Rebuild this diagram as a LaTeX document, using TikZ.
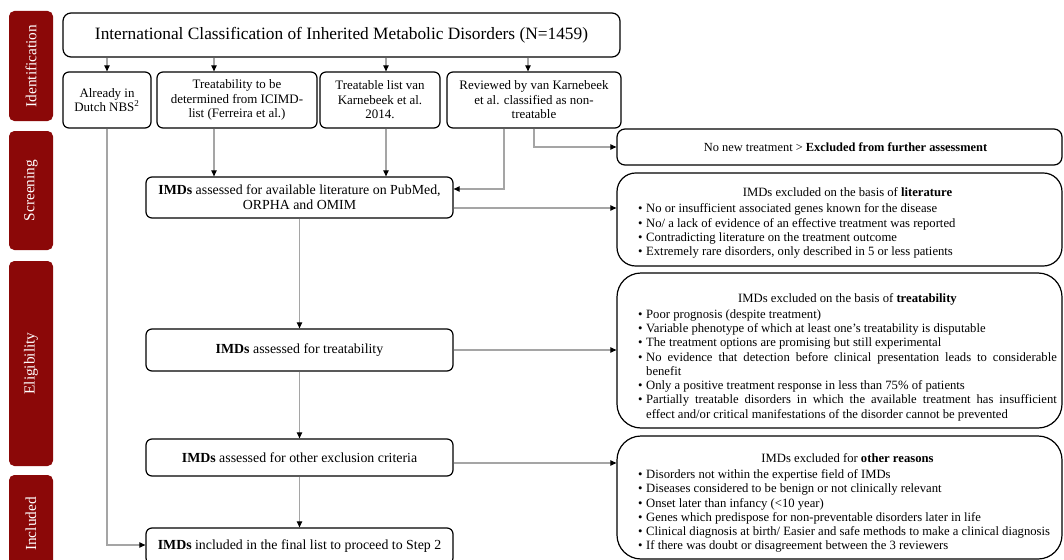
\documentclass[tikz,border=0pt]{standalone}
\usepackage{fontspec}
\setmainfont{Liberation Serif}
\usetikzlibrary{arrows.meta,fit}
\definecolor{sidered}{RGB}{139,8,8}
\definecolor{conngray}{RGB}{165,165,165}
\newcommand\blt[1]{\par\noindent\hangindent=6pt\hangafter=1\makebox[6pt][l]{\textbullet}#1\par}
\newcommand\ttl[1]{{\centering #1\par}\vspace{1.5pt}}
\begin{document}
\begin{tikzpicture}[x=0.75pt,y=-0.75pt,
  side/.style={fill=sidered, draw=none, rounded corners=4pt, inner sep=0pt},
  sidetxt/.style={text=white, rotate=90, font=\fontsize{11.5}{13}\selectfont},
  box/.style={draw=black, line width=0.9pt, rounded corners=4.5pt, inner sep=0pt},
  rbox/.style={draw=black, line width=0.9pt, rounded corners=12pt, inner sep=0pt},
  rowtxt/.style={align=center, inner sep=0pt, font=\fontsize{9.7}{10.9}\selectfont},
  midtxt/.style={align=center, inner sep=0pt, font=\fontsize{10.4}{11.4}\selectfont},
  listtxt/.style={text width=314pt, align=justify, inner sep=0pt, font=\fontsize{9.5}{10.7}\selectfont},
  conn/.style={draw=conngray, line width=0.8pt, -{Triangle[color=black,length=4.5pt,width=4pt]}}]
\useasboundingbox (0,0) rectangle (1064,560);
% sidebar
\node[side, fit={(9,11)(53,121)}] (s1) {};
\node[sidetxt] (s1t) at (s1.center) {Identification};
\node[side, fit={(9,131)(53,250)}] (s2) {};
\node[sidetxt] (s2t) at (s2.center) {Screening};
\node[side, fit={(9,261)(53,466)}] (s3) {};
\node[sidetxt] (s3t) at (s3.center) {Eligibility};
\node[side, fit={(9,475)(53,575)}] (s4) {};
\node[sidetxt] (s4t) at (31,524) {Included};
% top
\node[box, rounded corners=6pt, fit={(63,13)(620,57)}] (top) {};
\node[inner sep=0pt, font=\fontsize{13}{14}\selectfont] (topt) at (top.center) {International Classification of Inherited Metabolic Disorders (N=1459)};
% row 2
\node[box, fit={(63,72)(151,128)}] (A) {};
\node[rowtxt] (At) at (A.center) {Already in\\Dutch NBS\textsuperscript{2}};
\node[box, fit={(157,72)(317,128)}] (B) {};
\node[rowtxt] (Bt) at (B.center) {Treatability to be\\determined from ICIMD-\\list (Ferreira et al.)};
\node[box, fit={(320,72)(440,128)}] (C) {};
\node[rowtxt] (Ct) at (C.center) {Treatable list van\\Karnebeek et al.\\2014.};
\node[box, fit={(447,72)(621,128)}] (D) {};
\node[rowtxt] (Dt) at (D.center) {Reviewed by van Karnebeek\\et al. classified as non-\\treatable};
% left column
\node[box, fit={(146,177)(453,218)}] (scr) {};
\node[midtxt] (scrt) at (scr.center) {\textbf{IMDs} assessed for available literature on PubMed,\\ORPHA and OMIM};
\node[box, fit={(146,329)(453,371)}] (treat) {};
\node[midtxt] (treatt) at (treat.center) {\textbf{IMDs} assessed for treatability};
\node[box, fit={(146,439)(453,476)}] (oth) {};
\node[midtxt] (otht) at (oth.center) {\textbf{IMDs} assessed for other exclusion criteria};
\node[box, fit={(146,528)(453,564)}] (incl) {};
\node[midtxt] (inclt) at (incl.center) {\textbf{IMDs} included in the final list to proceed to Step 2};
% right column
\node[rbox, rounded corners=6pt, fit={(617,129)(1062,165)}] (nonew) {};
\node[inner sep=0pt, font=\fontsize{9.3}{10}\selectfont] (nonewt) at ([xshift=4.5pt]nonew.center) {No new treatment > \textbf{Excluded from further assessment}};
\node[rbox, rounded corners=14pt, fit={(617,173)(1062,266)}] (lit) {};
\node[listtxt] (litt) at (847.5,223) {\ttl{IMDs excluded on the basis of \textbf{literature}}
\blt{No or insufficient associated genes known for the disease}
\blt{No/ a lack of evidence of an effective treatment was reported}
\blt{Contradicting literature on the treatment outcome}
\blt{Extremely rare disorders, only described in 5 or less patients}};
\node[rbox, rounded corners=18pt, fit={(617,273)(1062,428)}] (treatR) {};
\node[listtxt] (treatRt) at (847.5,357) {\ttl{IMDs excluded on the basis of \textbf{treatability}}
\blt{Poor prognosis (despite treatment)}
\blt{Variable phenotype of which at least one's treatability is disputable}
\blt{The treatment options are promising but still experimental}
\blt{No evidence that detection before clinical presentation leads to considerable\linebreak benefit}
\blt{Only a positive treatment response in less than 75\% of patients}
\blt{Partially treatable disorders in which the available treatment has insufficient\linebreak effect and/or critical manifestations of the disorder cannot be prevented}};
\node[rbox, rounded corners=18pt, fit={(617,436)(1062,559)}] (othR) {};
\node[listtxt] (othRt) at (847.5,503) {\ttl{IMDs excluded for \textbf{other reasons}}
\blt{Disorders not within the expertise field of IMDs}
\blt{Diseases considered to be benign or not clinically relevant}
\blt{Onset later than infancy (<10 year)}
\blt{Genes which predispose for non-preventable disorders later in life}
\blt{Clinical diagnosis at birth/ Easier and safe methods to make a clinical diagnosis}
\blt{If there was doubt or disagreement between the 3 reviewers}};
% helper coordinates
\coordinate (xB) at (214,0);
\coordinate (xC) at (386,0);
\coordinate (xD) at (528,0);
\coordinate (xD1) at (504,0);
\coordinate (xD2) at (534,0);
\coordinate (yD1) at (0,189);
\coordinate (yS) at (0,208);
\coordinate (yO) at (0,463);
\coordinate (yI) at (0,545);
% connectors
\draw[conn] (top.south -| A) -- (A.north);
\draw[conn] (top.south -| xB) -- (B.north -| xB);
\draw[conn] (top.south -| xC) -- (C.north -| xC);
\draw[conn] (top.south -| xD) -- (D.north -| xD);
\draw[conn] (A.south) |- (incl.west |- yI);
\draw[conn] (B.south -| xB) -- (scr.north -| xB);
\draw[conn] (C.south -| xC) -- (scr.north -| xC);
\draw[conn] (D.south -| xD1) |- (scr.east |- yD1);
\draw[conn] (D.south -| xD2) |- (nonew.west);
\draw[conn] (scr.east |- yS) -- (lit.west |- yS);
\draw[conn] (scr.south) -- (treat.north);
\draw[conn] (treat.east) -- (treatR.west |- treat.east);
\draw[conn] (treat.south) -- (oth.north);
\draw[conn] (oth.east |- yO) -- (othR.west |- yO);
\draw[conn] (oth.south) -- (incl.north);
\end{tikzpicture}
\end{document}
